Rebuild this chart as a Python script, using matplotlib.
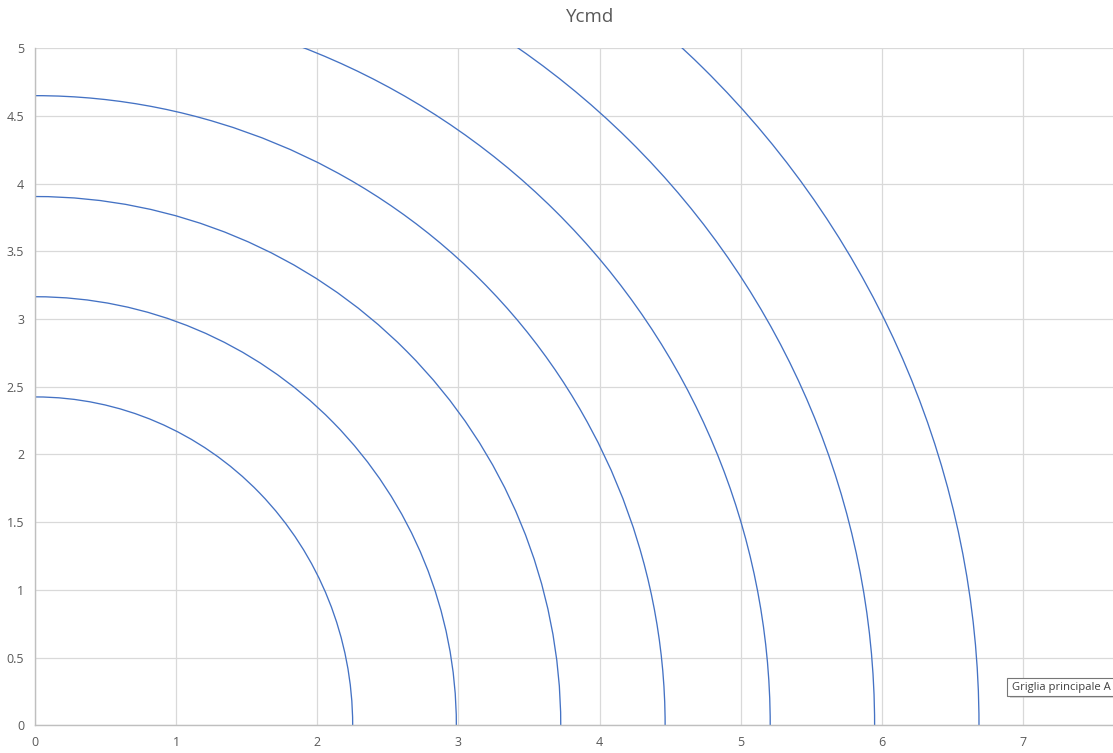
import matplotlib
matplotlib.use("Agg")
import matplotlib.pyplot as plt
from matplotlib.patches import Arc, Rectangle
from matplotlib.ticker import FuncFormatter

# semiassi delle curve (intercetta x, intercetta y)
semi_x = [2.25, 2.985, 3.725, 4.465, 5.21, 5.95, 6.69]
semi_y = [2.425, 3.165, 3.905, 4.65, 5.375, 6.115, 6.87]

x_ticks = [0, 1, 2, 3, 4, 5, 6, 7]
y_ticks = [0, 0.5, 1, 1.5, 2, 2.5, 3, 3.5, 4, 4.5, 5]

plt.rcParams['font.family'] = ['Open Sans', 'DejaVu Sans']

fig = plt.figure(figsize=(11.13, 7.53), dpi=100)
ax = fig.add_axes([0.0317, 0.0368, 0.9683, 0.8991])

line_col = '#4472C4'
for a, b in zip(semi_x, semi_y):
    ax.add_patch(Arc((0, 0), 2 * a, 2 * b, theta1=0, theta2=90,
                     color=line_col, lw=0.95))

ax.set_xlim(0, 7.64)
ax.set_ylim(0, 5)
ax.set_xticks(x_ticks)
ax.set_yticks(y_ticks)
ax.yaxis.set_major_formatter(FuncFormatter(lambda v, p: f'{v:g}'))
ax.xaxis.set_major_formatter(FuncFormatter(lambda v, p: f'{v:g}'))
ax.grid(True, color='#d9d9d9', lw=0.9)
ax.set_axisbelow(True)
ax.tick_params(length=0, labelsize=9, colors='#595959', pad=8)
for s in ['top', 'right']:
    ax.spines[s].set_visible(False)
for s in ['left', 'bottom']:
    ax.spines[s].set_color('#bfbfbf')
    ax.spines[s].set_linewidth(1.0)

fig.text(0.53, 0.978, 'Ycmd', ha='center', va='center',
         fontsize=13.5, color='#595959')

# tooltip di Excel rimasto nello screenshot: il riquadro esce dal bordo
fig.patches.append(Rectangle((0.9075, 0.0730), 0.1, 0.0245, transform=fig.transFigure,
                             fc='#b0b0b0', ec='none', alpha=0.5, zorder=5))
fig.patches.append(Rectangle((0.9045, 0.0757), 0.1, 0.0239, transform=fig.transFigure,
                             fc='white', ec='#767676', lw=0.8, zorder=6))
fig.text(0.9093, 0.0876, 'Griglia principale A', ha='left', va='center',
         fontsize=8.1, color='#404040', zorder=7)

fig.savefig('out.png', dpi=100)
